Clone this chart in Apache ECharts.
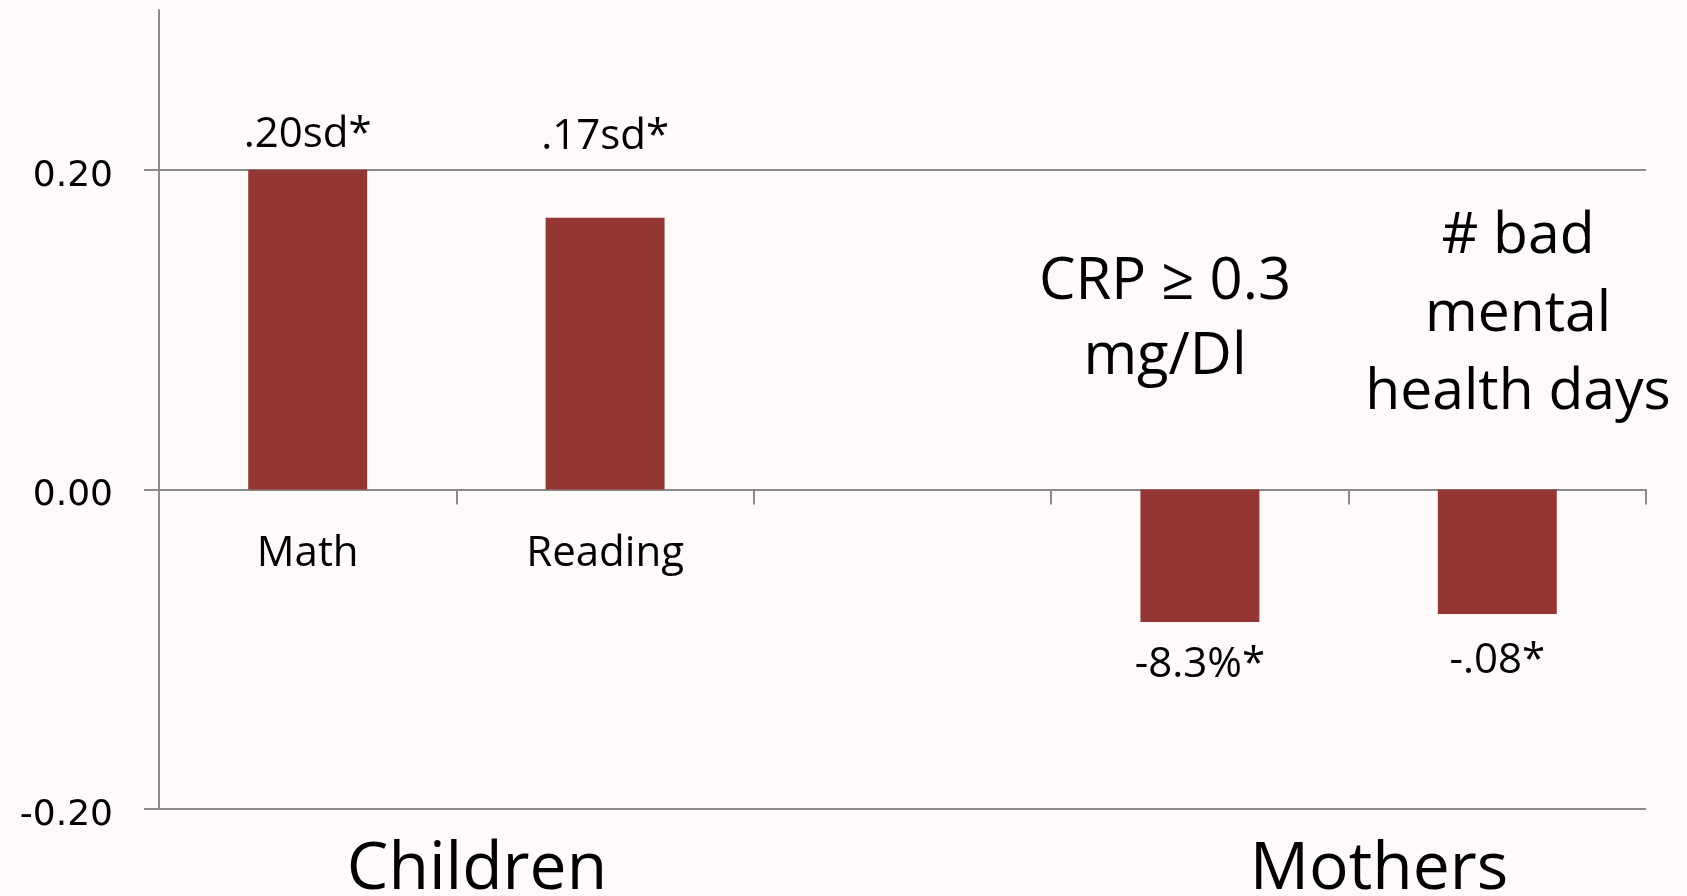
<!DOCTYPE html>
<html>
<head>
<meta charset="utf-8">
<title>Children and Mothers</title>
<script src="https://cdn.jsdelivr.net/npm/echarts@6/dist/echarts.min.js"></script>
<style>
  html, body { margin: 0; padding: 0; background: #fefafa; }
  #chart { width: 1687px; height: 896px; }
</style>
</head>
<body>
<div id="chart"></div>
<script>
// categories on the x axis (only the first two carry an axis label)
var categories = ['Math', 'Reading', '', 'CRP \u2265 0.3\nmg/Dl', '# bad\nmental\nhealth days']
var shownAxisLabels = ['Math', 'Reading', '', '', '']
// bar values
var values = [0.20, 0.17, null, -0.083, -0.078]
// value labels written on the bars
var barLabels = ['.20sd*', '.17sd*', '', '-8.3%*', '-.08*']
// y axis ticks
var yTicks = [-0.2, 0, 0.2]
// group names under the chart
var groups = ['Children', 'Mothers']

var labelDistance = [14, 14, 0, 22, 26]
var labelOffset = [[0, 0], [0, -46], [0, 0], [0, 0], [0, 0]]

var chart = echarts.init(document.getElementById('chart'))

var barData = values.map(function (v, i) {
  return {
    value: v,
    label: {
      position: v >= 0 ? 'top' : 'bottom',
      distance: labelDistance[i],
      offset: labelOffset[i]
    }
  }
})

var option = {
  backgroundColor: '#fefafa',
  animation: false,
  grid: { left: 159, right: 41, top: 10, bottom: 87 },
  xAxis: {
    type: 'category',
    data: categories,
    axisLine: { onZero: true, lineStyle: { color: '#8a8a8a', width: 2 } },
    axisTick: { show: true, length: 15, lineStyle: { color: '#8a8a8a', width: 2 } },
    axisLabel: {
      // labels sit under the zero line, not under the grid bottom
      margin: -276,
      fontFamily: 'Open Sans',
      fontSize: 42,
      color: '#000',
      formatter: function (val, idx) { return shownAxisLabels[idx] }
    },
    splitLine: { show: false }
  },
  yAxis: {
    type: 'value',
    min: -0.2,
    max: 0.3,
    interval: 0.2,
    axisLine: { show: true, lineStyle: { color: '#8a8a8a', width: 2 } },
    axisTick: { show: true, length: 15, customValues: yTicks, lineStyle: { color: '#8a8a8a', width: 2 } },
    axisLabel: {
      customValues: yTicks,
      margin: 46,
      color: '#000',
      formatter: function (v) { return '{t|' + v.toFixed(2) + '}' },
      rich: {
        t: { fontFamily: 'DejaVu Sans', fontSize: 36, color: '#000', padding: [13, 0, 0, 0] }
      }
    },
    splitLine: { show: true, lineStyle: { color: '#8a8a8a', width: 2 } }
  },
  series: [{
    type: 'bar',
    data: barData,
    barWidth: '40%',
    itemStyle: { color: '#943634' },
    label: {
      show: true,
      fontFamily: 'Open Sans',
      fontSize: 42,
      color: '#000',
      formatter: function (p) { return barLabels[p.dataIndex] }
    }
  }],
  graphic: [
    {
      type: 'text', x: 1165, y: 320,
      style: {
        text: categories[3], font: '58px "Open Sans"', fill: '#000',
        align: 'center', verticalAlign: 'middle', lineHeight: 75
      }
    },
    {
      type: 'text', x: 1518, y: 315,
      style: {
        text: categories[4], font: '57px "Open Sans"', fill: '#000',
        align: 'center', verticalAlign: 'middle', lineHeight: 78
      }
    },
    {
      type: 'text', x: 477, y: 870,
      style: {
        text: groups[0], font: '66px "Open Sans"', fill: '#000',
        align: 'center', verticalAlign: 'middle'
      }
    },
    {
      type: 'text', x: 1379, y: 870,
      style: {
        text: groups[1], font: '66px "Open Sans"', fill: '#000',
        align: 'center', verticalAlign: 'middle'
      }
    }
  ]
}

chart.setOption(option)
</script>
</body>
</html>
